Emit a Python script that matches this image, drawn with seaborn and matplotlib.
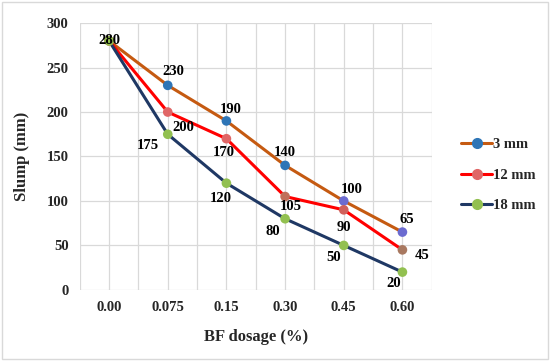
import matplotlib
matplotlib.use("Agg")
import matplotlib.pyplot as plt
from matplotlib.lines import Line2D
from matplotlib.patches import Rectangle
import seaborn as sns
import pandas as pd

# Chart data
dosage_labels = ["0.00", "0.075", "0.15", "0.30", "0.45", "0.60"]
slump_3mm = [280, 230, 190, 140, 100, 65]
slump_12mm = [280, 200, 170, 105, 90, 45]
slump_18mm = [280, 175, 120, 80, 50, 20]
series_names = ["3 mm", "12 mm", "18 mm"]

sns.set_theme(style="white")
plt.rcParams['font.family'] = ['Liberation Serif', 'DejaVu Serif']
plt.rcParams['font.weight'] = 'bold'

fig = plt.figure(figsize=(5.5, 3.61), dpi=100)
ax = fig.add_axes([0.145, 0.197, 0.64, 0.739])

# light border round the whole figure
fig.patches.append(Rectangle((0.004, 0.006), 0.992, 0.988, transform=fig.transFigure,
                             fill=False, edgecolor='#D9D9D9', linewidth=1.0))

pos = list(range(len(dosage_labels)))
df = pd.DataFrame({
    "pos": pos * 3,
    "slump": slump_3mm + slump_12mm + slump_18mm,
    "series": [n for n in series_names for _ in pos],
})

line_colors = {"3 mm": "#C55A11", "12 mm": "#FF0000", "18 mm": "#1F3864"}
marker_colors = {"3 mm": "#2E75B6", "12 mm": "#E06666", "18 mm": "#92C050"}
# the later markers are a bit off-colour in the original
point_colors = {
    "3 mm": ["#92C050", "#2E75B6", "#2E75B6", "#2E75B6", "#6B6BD0", "#6B6BD0"],
    "12 mm": ["#E06666", "#E06666", "#E06666", "#C0705A", "#D0605A", "#A87860"],
    "18 mm": ["#92C050"] * 6,
}

for name in series_names:
    sub = df[df["series"] == name]
    sns.lineplot(data=sub, x="pos", y="slump", ax=ax, color=line_colors[name],
                 linewidth=2.2, legend=False, zorder=3)
for name in series_names:
    sub = df[df["series"] == name]
    ax.scatter(sub["pos"], sub["slump"], s=48, c=point_colors[name], zorder=4, linewidths=0)

# data labels (offsets in points)
label_offsets = {
    "3 mm": [(0, 0), (4, 10), (3, 8), (0, 9), (6, 8), (3, 9)],
    "12 mm": [None, (11, -11), (-2, -10), (4, -7), (0, -13), (14, -4)],
    "18 mm": [None, (-14, -8), (-4, -11), (-9, -9), (-7, -9), (-6, -8)],
}
vals = {"3 mm": slump_3mm, "12 mm": slump_12mm, "18 mm": slump_18mm}
for name in series_names:
    for i, v in enumerate(vals[name]):
        off = label_offsets[name][i]
        if off is None:
            continue
        ax.annotate(str(v), (i, v), xytext=off, textcoords='offset points',
                    ha='center', va='center', fontsize=10.5, fontweight='bold',
                    color='black', zorder=5)

ax.set_xlim(-0.5, 5.5)
ax.set_ylim(0, 300)
ax.set_xticks(pos)
ax.set_xticklabels(dosage_labels)
ax.set_xticks([p - 0.5 for p in pos] + [5.5], minor=True)
ax.set_yticks(range(0, 301, 50))
ax.grid(True, which='both', color='#D9D9D9', linewidth=0.9)
ax.set_axisbelow(True)
for s in ax.spines.values():
    s.set_visible(False)
ax.tick_params(axis='both', which='both', length=0, labelsize=10.5, pad=8)
for lab in ax.get_xticklabels() + ax.get_yticklabels():
    lab.set_fontweight('bold')

ax.set_xlabel("BF dosage (%)", fontsize=12, fontweight='bold', labelpad=11)
ax.set_ylabel("Slump (mm)", fontsize=12, fontweight='bold', labelpad=12)

handles = [Line2D([0], [0], color=line_colors[n], linewidth=2.2, marker='o', markersize=7,
                  markerfacecolor=marker_colors[n], markeredgecolor=marker_colors[n])
           for n in series_names]
fig.legend(handles, series_names, loc='center left', bbox_to_anchor=(0.815, 0.515),
           frameon=False, handlelength=2.1, labelspacing=1.2,
           handletextpad=0.1, prop={'weight': 'bold', 'size': 10.5})

fig.savefig("out.png", dpi=100, facecolor='white')
